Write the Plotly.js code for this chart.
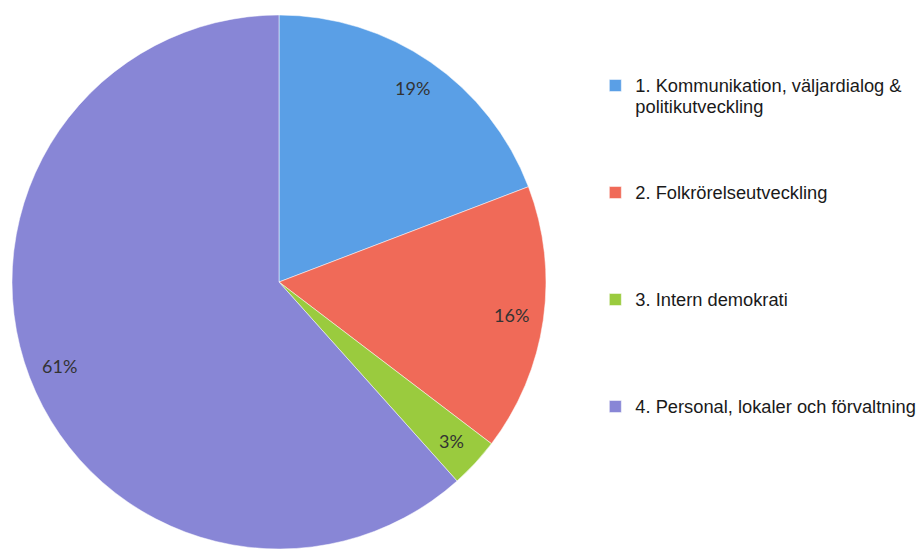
<!DOCTYPE html>
<html>
<head>
<meta charset="utf-8">
<script src="https://cdn.plot.ly/plotly-3.0.1.min.js"></script>
<style>html,body{margin:0;padding:0;background:#fff;}#chart{width:923px;height:549px;}</style>
</head>
<body>
<div id="chart"></div>
<script>
const categories = [
  "1. Kommunikation, väljardialog &<br>politikutveckling",
  "2. Folkrörelseutveckling",
  "3. Intern demokrati",
  "4. Personal, lokaler och förvaltning"
];
const values = [19, 16, 3, 61];
const sliceLabels = ["19%", "16%", "3%", "61%"];
const colors = ["#5a9fe6", "#f06a58", "#9acb3e", "#8886d6"];

const W = 923, H = 549;
const dom = {x: [12 / W, 546 / W], y: [0, 534 / H]};

// legend labels: glyphs drawn larger than the line pitch, padded with blank lines
const linesPerItem = 5;
const legendLabels = categories.map((c, i) => {
  const parts = c.split("<br>").map(p => '<span style="font-size:18.3px">' + p + '</span>');
  let s = parts.join("<br>");
  if (i < categories.length - 1) {
    for (let k = parts.length; k < linesPerItem; k++) s += "<br>\u00a0";
  }
  return s;
});

// label positions derived from slice angles
const total = values.reduce((a, b) => a + b, 0);
const cxPx = (dom.x[0] + dom.x[1]) / 2 * W;
const cyPx = (1 - (dom.y[0] + dom.y[1]) / 2) * H;
const rPx = Math.min((dom.x[1] - dom.x[0]) * W, (dom.y[1] - dom.y[0]) * H) / 2;
let cum = 0;
const annotations = values.map((v, i) => {
  const mid = (cum + v / 2) / total * 2 * Math.PI;
  cum += v;
  const rr = rPx * 0.88;
  const px = cxPx + rr * Math.sin(mid);
  const py = cyPx - rr * Math.cos(mid);
  return {
    x: px / W, y: 1 - py / H, xref: "paper", yref: "paper",
    xanchor: "center", yanchor: "middle",
    text: sliceLabels[i], showarrow: false,
    font: {family: "Lato, 'Open Sans', sans-serif", size: 18, color: "#333333"}
  };
});

const data = [{
  type: "pie",
  labels: legendLabels,
  values: values,
  sort: false,
  direction: "clockwise",
  rotation: 0,
  marker: {colors: colors, line: {color: "#ffffff", width: 0.5}},
  textinfo: "none",
  hoverinfo: "percent",
  domain: dom
}];

const layout = {
  width: W, height: H,
  margin: {l: 0, r: 0, t: 0, b: 0, autoexpand: false},
  paper_bgcolor: "#ffffff",
  showlegend: true,
  legend: {
    x: 0.645, y: 0.875, xanchor: "left", yanchor: "top",
    valign: "top",
    font: {family: "'Liberation Sans', Arial, sans-serif", size: 16, color: "#1a1a1a"},
    itemwidth: 30
  },
  annotations: annotations
};

Plotly.newPlot("chart", data, layout, {displayModeBar: false, staticPlot: true});
</script>
</body>
</html>
